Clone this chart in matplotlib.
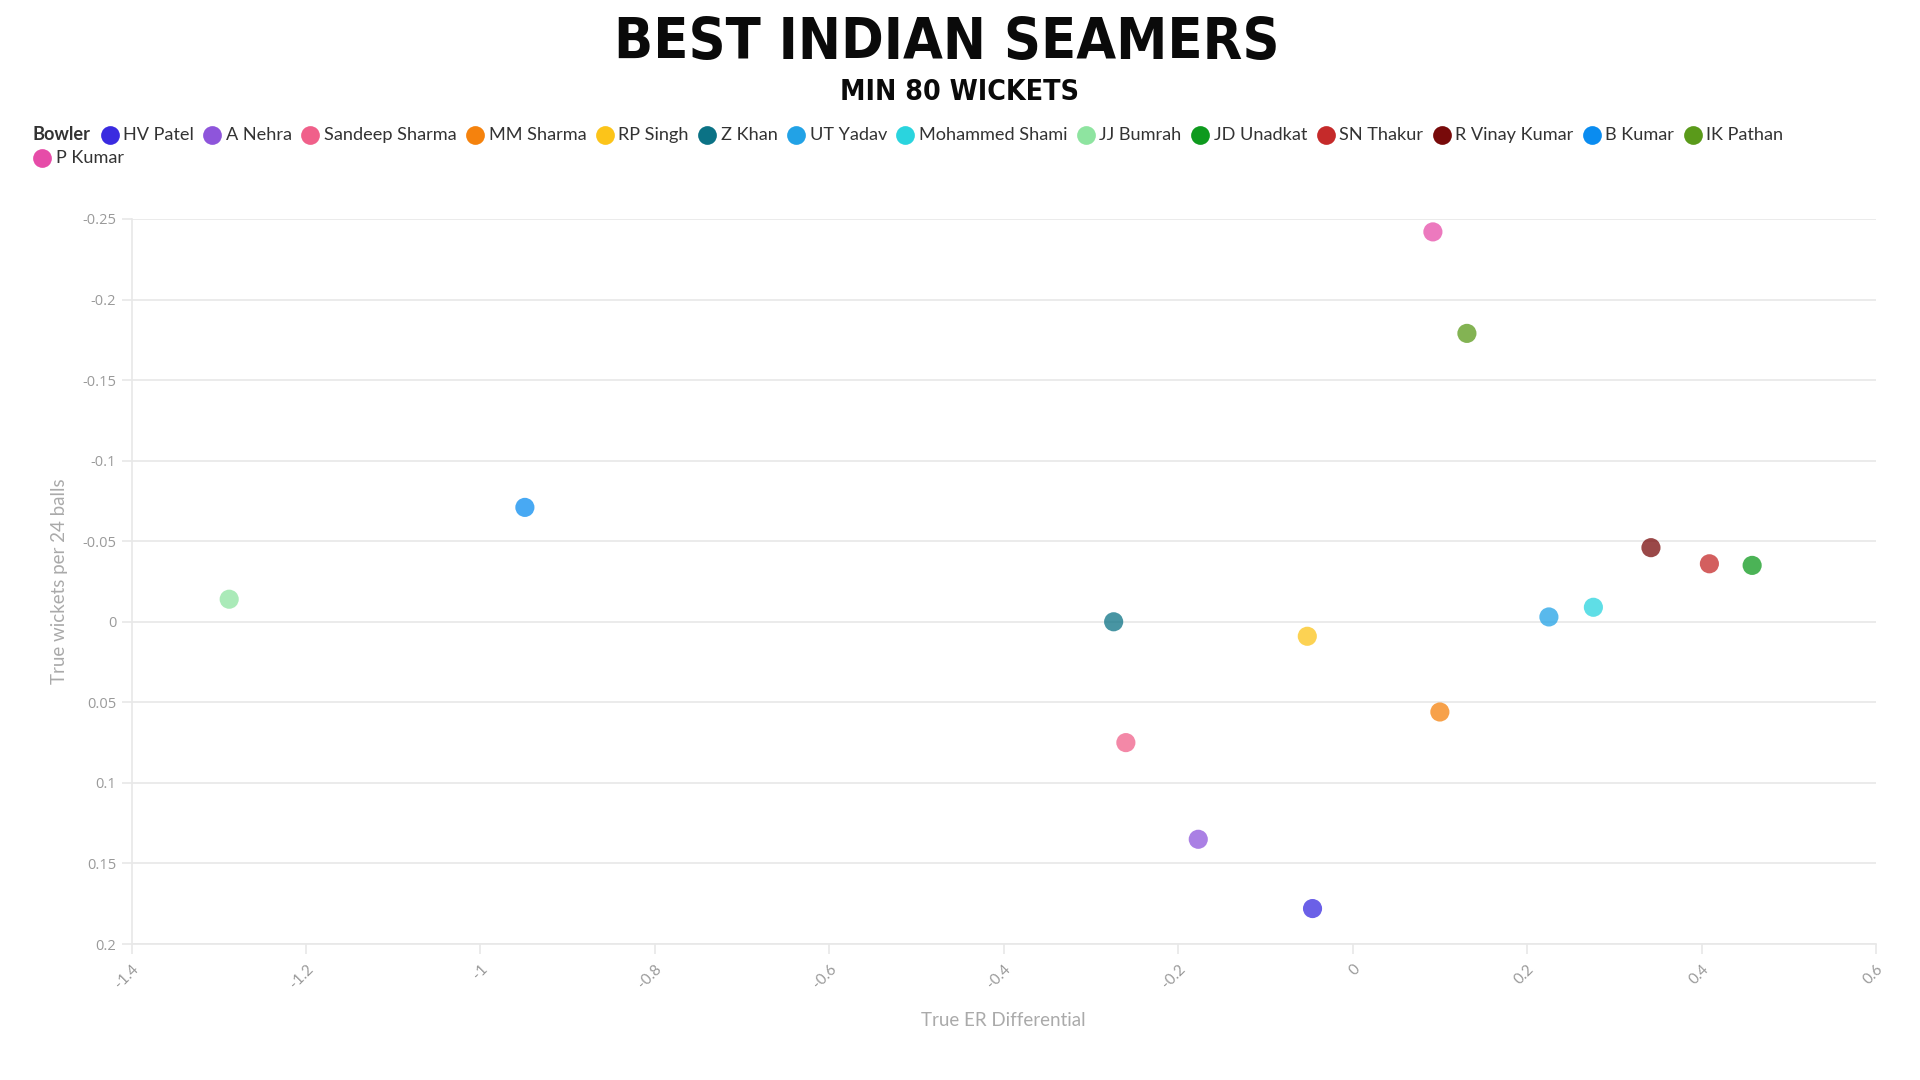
import matplotlib
matplotlib.use("Agg")
import matplotlib.pyplot as plt
import numpy as np
from matplotlib.lines import Line2D
from matplotlib import font_manager as fm

plt.rcParams['axes.unicode_minus'] = False

# ---- data ----
bowlers = ["HV Patel", "A Nehra", "Sandeep Sharma", "MM Sharma", "RP Singh", "Z Khan",
           "UT Yadav", "Mohammed Shami", "JJ Bumrah", "JD Unadkat", "SN Thakur",
           "R Vinay Kumar", "B Kumar", "IK Pathan", "P Kumar"]
colors = ["#3a2be0", "#8e55db", "#f0608a", "#f5820d", "#fcc419", "#0b7285",
          "#22a2e6", "#2ad4de", "#8ee4a0", "#0e9a1e", "#c52a2a",
          "#780a0a", "#0a8cf0", "#5a9a1a", "#e64ca8"]
er_diff = [-0.046, -0.177, -0.260, 0.100, -0.052, -0.274,
           0.225, 0.276, -1.288, 0.458, 0.409,
           0.342, -0.949, 0.131, 0.092]
wkts_diff = [0.178, 0.135, 0.075, 0.056, 0.009, 0.000,
             -0.003, -0.009, -0.014, -0.035, -0.036,
             -0.046, -0.071, -0.179, -0.242]
x_ticks = [-1.4, -1.2, -1.0, -0.8, -0.6, -0.4, -0.2, 0.0, 0.2, 0.4, 0.6]
y_ticks = [-0.25, -0.2, -0.15, -0.1, -0.05, 0.0, 0.05, 0.1, 0.15, 0.2]

W, H = 1920, 1080
fig = plt.figure(figsize=(19.2, 10.8), dpi=100)
fig.patch.set_facecolor('white')
renderer = fig.canvas.get_renderer()

L, R, T, B = 131.5, 1876, 219, 944
ax = fig.add_axes([L / W, 1 - B / H, (R - L) / W, (B - T) / H])

for name, c, xv, yv in zip(bowlers, colors, er_diff, wkts_diff):
    ax.scatter([xv], [yv], s=190, color=c, alpha=0.75, edgecolors='none', zorder=3)

ax.set_xlim(x_ticks[0], x_ticks[-1])
ax.set_ylim(y_ticks[-1], y_ticks[0])
ax.set_xticks(x_ticks)
ax.set_yticks(y_ticks)
ax.set_xticklabels(['%g' % v for v in x_ticks], rotation=45, ha='right', va='top',
                   rotation_mode='anchor', family='Lato', fontsize=11, color='#9a9a9a')
ax.set_yticklabels(['%g' % v for v in y_ticks], family='Open Sans', fontsize=10.5,
                   color='#9a9a9a')
ax.yaxis.grid(True, color='#e8e8e8', lw=1.2)
ax.set_axisbelow(True)
for s in ['top', 'right']:
    ax.spines[s].set_visible(False)
for s in ['left', 'bottom']:
    ax.spines[s].set_color('#e8e8e8')
    ax.spines[s].set_linewidth(1.2)
ax.tick_params(axis='x', length=7, color='#e8e8e8', width=1.2, pad=6)
ax.tick_params(axis='y', length=7, color='#e8e8e8', width=1.2, pad=4)

ax.set_xlabel('True ER Differential', family='Lato', fontsize=13.5, color='#aaaaaa',
              labelpad=15)
ax.set_ylabel('True wickets per 24 balls', family='Lato', fontsize=13.5, color='#aaaaaa',
              labelpad=10)

# ---- titles: pick a heavy condensed face if one is installed ----
title_fp = None
cands = []
for f in fm.fontManager.ttflist:
    fn = f.fname.lower().replace('_', '').replace(' ', '')
    if ('narrow' in fn or 'condensed' in fn) and 'bold' in fn:
        score = 0
        if 'italic' in fn or 'oblique' in fn:
            score += 1
        cands.append((score, f.fname))
if cands:
    cands.sort()
    title_fp = fm.FontProperties(fname=cands[0][1])
else:
    title_fp = fm.FontProperties(family='DejaVu Sans', weight='bold')


def fitted_text(s, xc, yb, target_w, size):
    fp = title_fp.copy()
    fp.set_size(size)
    t = fig.text(xc / W, 1 - yb / H, s, ha='center', va='baseline', fontproperties=fp,
                 color='#0a0a0a')
    w = t.get_window_extent(renderer).width
    new = size * target_w / w
    fp2 = title_fp.copy()
    fp2.set_size(min(new, size * 1.1))
    t.set_fontproperties(fp2)
    return t


fitted_text('BEST INDIAN SEAMERS', 947, 59, 665, 49)
fitted_text('MIN 80 WICKETS', 959, 100, 239, 25)

# ---- legend (flow layout) ----
x0, y0, row_h, max_x = 33.0, 134.7, 23.7, 1815.0
fs_leg = 13.1
t = fig.text(x0 / W, 1 - y0 / H, 'Bowler', ha='left', va='center', family='Lato',
             weight='bold', fontsize=fs_leg, color='#333333')
x = x0 + t.get_window_extent(renderer).width
y = y0
for name, c in zip(bowlers, colors):
    cx = x + 18.5
    tmp = fig.text(0, 0, name, family='Lato', fontsize=fs_leg)
    w = tmp.get_window_extent(renderer).width
    tmp.remove()
    if cx + 13.5 + w > max_x:
        y += row_h
        cx = x0 + 9
    fig.add_artist(Line2D([cx / W], [1 - y / H], marker='o', ms=13.5, color=c,
                          markeredgewidth=0, transform=fig.transFigure))
    fig.text((cx + 13.5) / W, 1 - y / H, name, ha='left', va='center', family='Lato',
             fontsize=fs_leg, color='#333333')
    x = cx + 13.5 + w

fig.savefig('out.png', dpi=100, facecolor='white')
